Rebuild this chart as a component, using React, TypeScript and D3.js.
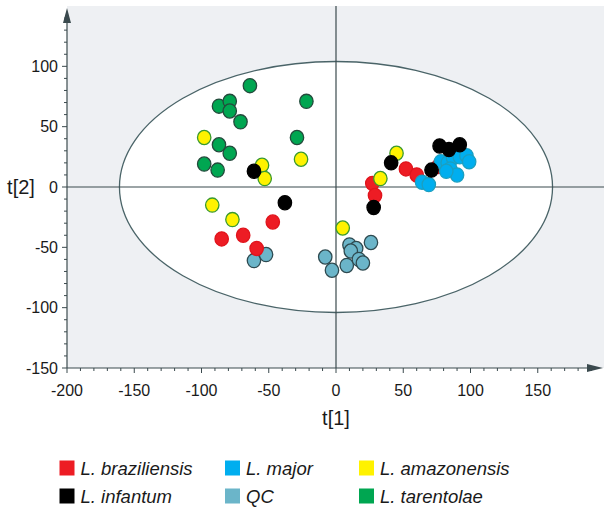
import React from "react";
import * as d3 from "d3";

const W = 604;
const H = 507;

const xTicks = [-200, -150, -100, -50, 0, 50, 100, 150];
const yTicks = [-150, -100, -50, 0, 50, 100];

// [t1, t2]
const braziliensis: [number, number][] = [
  [-85, -43], [-69, -40], [-47, -29], [-59, -51],
  [27, 3], [29, -7], [52, 15], [60, 10], [76, 17],
];
const major: [number, number][] = [
  [64, 4], [69, 2], [78, 21], [83, 20], [87, 24], [92, 25], [97, 26], [99, 21],
  [85, 15], [90, 10], [82, 13],
];
const amazonensis: [number, number][] = [
  [-98, 41], [-55, 18], [-53, 7], [-26, 23], [-92, -15], [-77, -27],
  [45, 28], [33, 7], [5, -34],
];
const infantum: [number, number][] = [
  [-61, 13], [-38, -13], [41, 20], [28, -17], [71, 14], [77, 34], [84, 31], [92, 35],
];
const qc: [number, number][] = [
  [-61, -61], [-52, -56], [-8, -58], [-3, -69], [8, -65], [10, -48], [15, -51],
  [11, -53], [17, -60], [20, -63], [26, -46],
];
const tarentolae: [number, number][] = [
  [-64, 84], [-87, 67], [-79, 71], [-79, 63], [-71, 54], [-22, 71], [-87, 35],
  [-79, 28], [-98, 19], [-88, 14], [-29, 41],
];

const groups = [
  { name: "L. braziliensis", data: braziliensis, fill: "#ED1C24", stroke: "#E0141C" },
  { name: "L. major", data: major, fill: "#00AEEF", stroke: "#1B9FC0" },
  { name: "L. amazonensis", data: amazonensis, fill: "#FFF200", stroke: "#3A9A2E" },
  { name: "L. infantum", data: infantum, fill: "#000000", stroke: "#000000" },
  { name: "QC", data: qc, fill: "#6BB5C9", stroke: "#2E4A50" },
  { name: "L. tarentolae", data: tarentolae, fill: "#00A651", stroke: "#244A3C" },
];

// draw order (bottom to top)
const drawOrder = ["L. tarentolae", "QC", "L. braziliensis", "L. major", "L. amazonensis", "L. infantum"];

const ellipseR = { x: 161, y: 104 };

export default function App() {
  const x = d3.scaleLinear().domain([-200, 200]).range([67, 605]);
  const y = d3.scaleLinear().domain([-150, 150]).range([368, 6]);
  const font = "Liberation Sans, Arial, sans-serif";
  const axisCol = "#3B4A4E";
  const x0 = x(-200), x1 = 604, y0 = y(-150), y1 = 6;

  const xMinor = d3.range(-200, 200, 10);
  const yMinor = d3.range(-150, 150, 10);

  const legendCols = [59.5, 225, 359];
  const legendRows = [468, 496];

  return (
    <svg width={W} height={H} style={{ position: "absolute", left: 0, top: 0 }} fontFamily={font}>
      <rect x={0} y={0} width={W} height={H} fill="#fff" />
      <rect x={x0} y={y1} width={x1 - x0} height={y0 - y1} fill="#EEF0F3" />
      <ellipse cx={x(0)} cy={y(0)} rx={x(ellipseR.x) - x(0)} ry={y(0) - y(ellipseR.y)} fill="#fff" stroke="#4A6468" strokeWidth={1.3} />
      {/* zero lines */}
      <line x1={x0} x2={x1} y1={y(0)} y2={y(0)} stroke={axisCol} strokeWidth={1.2} />
      <line x1={x(0)} x2={x(0)} y1={y1} y2={y0} stroke={axisCol} strokeWidth={1.2} />

      {/* points */}
      {drawOrder.map((n) => {
        const g = groups.find((gg) => gg.name === n)!;
        return (
          <g key={n}>
            {g.data.map((d, i) => (
              <ellipse key={i} cx={x(d[0])} cy={y(d[1])} rx={6.7} ry={7.1} fill={g.fill} stroke={g.stroke} strokeWidth={1.3} />
            ))}
          </g>
        );
      })}

      {/* y axis */}
      <line x1={x0} x2={x0} y1={y0} y2={y1 + 12} stroke={axisCol} strokeWidth={1.2} />
      <path d={`M${x0 - 4},${y1 + 17} L${x0},${y1 + 2} L${x0 + 4},${y1 + 17} Z`} fill={axisCol} />
      {yMinor.map((v) => (
        <line key={v} x1={x0 - (v % 50 === 0 ? 5 : 3)} x2={x0} y1={y(v)} y2={y(v)} stroke={axisCol} strokeWidth={1} />
      ))}
      {yTicks.map((v) => (
        <text key={v} x={x0 - 9} y={y(v)} dy="0.36em" textAnchor="end" fontSize={16} fill="#1a1a1a">{v}</text>
      ))}

      {/* x axis */}
      <line x1={x0} x2={x1 - 12} y1={y0} y2={y0} stroke={axisCol} strokeWidth={1.2} />
      <path d={`M${x1 - 17},${y0 - 4} L${x1 - 1},${y0} L${x1 - 17},${y0 + 4} Z`} fill={axisCol} />
      {xMinor.map((v) => (
        <line key={v} x1={x(v)} x2={x(v)} y1={y0} y2={y0 + (v % 50 === 0 ? 5 : 3)} stroke={axisCol} strokeWidth={1} />
      ))}
      {xTicks.map((v) => (
        <text key={v} x={x(v)} y={y0 + 28} textAnchor="middle" fontSize={16} fill="#1a1a1a">{v}</text>
      ))}

      <text x={x(0)} y={425} textAnchor="middle" fontSize={20} fill="#1a1a1a">t[1]</text>
      <text x={21} y={y(0)} dy="0.36em" textAnchor="middle" fontSize={20} fill="#1a1a1a">t[2]</text>

      {/* legend */}
      {groups.map((g, i) => {
        const cx = legendCols[i % 3];
        const cy = legendRows[Math.floor(i / 3)];
        return (
          <g key={g.name}>
            <rect x={cx} y={cy - 7.5} width={15} height={15} fill={g.fill} />
            <text x={cx + 21} y={cy} dy="0.36em" fontSize={18.5} fontStyle="italic" fill="#1a1a1a">{g.name}</text>
          </g>
        );
      })}
    </svg>
  );
}
